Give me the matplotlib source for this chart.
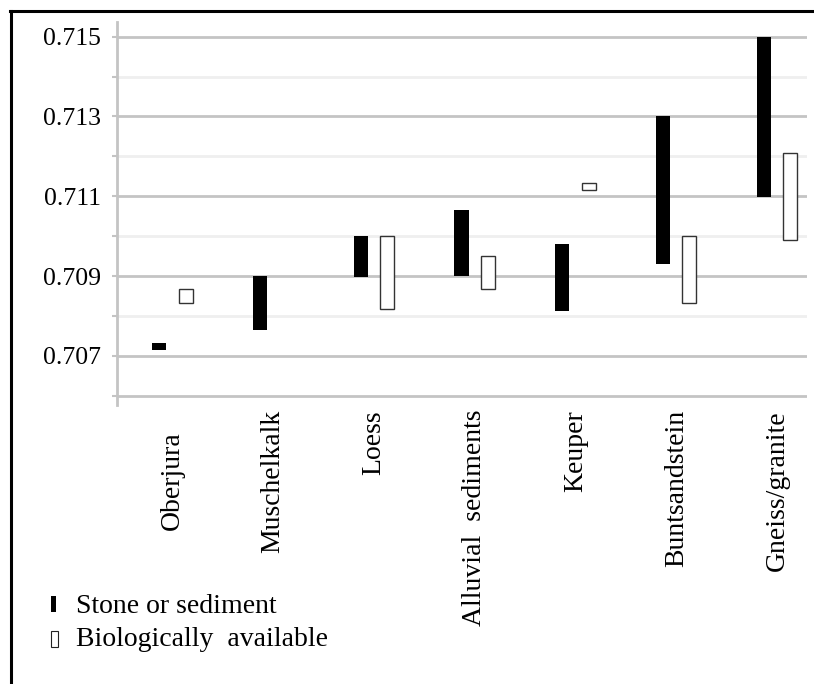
import numpy as np
import matplotlib
matplotlib.use("Agg")
import matplotlib.pyplot as plt
from matplotlib.patches import Rectangle
from matplotlib.lines import Line2D

plt.rcParams['font.family'] = ['Liberation Serif', 'DejaVu Serif']

# 87Sr/86Sr ranges per geological unit
categories = ["Oberjura", "Muschelkalk", "Loess", "Alluvial  sediments",
              "Keuper", "Buntsandstein", "Gneiss/granite"]
stone_low = [0.70715, 0.70765, 0.70898, 0.70900, 0.70813, 0.70931, 0.71098]
stone_high = [0.70733, 0.70900, 0.71000, 0.71066, 0.70981, 0.71300, 0.71500]
bio_low = [0.70833, np.nan, 0.70817, 0.70868, 0.71115, 0.70833, 0.70991]
bio_high = [0.70868, np.nan, 0.71000, 0.70950, 0.71133, 0.71000, 0.71209]

major_ticks = [0.707, 0.709, 0.711, 0.713, 0.715]
minor_ticks = [0.706, 0.708, 0.710, 0.712, 0.714]

W, H = 814, 684
fig = plt.figure(figsize=(W / 100, H / 100), dpi=100)
ax = fig.add_axes([116.7 / W, 1 - 405 / H, 690 / W, 383.3 / H])

x = np.arange(len(categories))
bw = 0.139
off = 0.131
s_lo = np.array(stone_low)
s_hi = np.array(stone_high)
b_lo = np.array(bio_low)
b_hi = np.array(bio_high)

ax.bar(x - off, s_hi - s_lo, bottom=s_lo, width=bw, color='black', zorder=3)
ax.bar(x + off, b_hi - b_lo, bottom=b_lo, width=bw, color='white',
       edgecolor='#333333', linewidth=1.0, zorder=3)

ax.set_xlim(-0.552, 6.294)
ax.set_ylim(0.705767, 0.715376)

# gridlines: strong at odd values, faint at even ones
for v in major_ticks + [0.706]:
    ax.axhline(v, color='#c4c4c4', linewidth=2.0, zorder=1)
for v in minor_ticks[1:]:
    ax.axhline(v, color='#efefef', linewidth=2.0, zorder=1)

ax.set_yticks(major_ticks)
ax.set_yticklabels([f"{v:.3f}" for v in major_ticks])
ax.set_yticks(minor_ticks, minor=True)
ax.tick_params(axis='y', which='both', length=3.6, width=1.5, color='#c4c4c4',
               labelsize=18.5, pad=8)
ax.set_xticks([])

for side in ['top', 'right', 'bottom']:
    ax.spines[side].set_visible(False)
ax.spines['left'].set_color('#c4c4c4')
ax.spines['left'].set_linewidth(2.0)

# rotated category labels below the plot
for i, name in enumerate(categories):
    pad = 19.2 if name == "Oberjura" else 3.6
    ax.annotate(name, xy=(i, 0), xycoords=('data', 'axes fraction'),
                xytext=(0, -pad), textcoords='offset points',
                rotation=90, ha='center', va='top', fontsize=20,
                annotation_clip=False)

# hand-made legend
fig.add_artist(Rectangle((50.7 / W, 1 - 612.3 / H), 4.8 / W, 16.3 / H,
                         transform=fig.transFigure, facecolor='black',
                         edgecolor='none'))
fig.add_artist(Rectangle((50.5 / W, 1 - 647 / H), 7 / W, 16.5 / H,
                         transform=fig.transFigure, facecolor='white',
                         edgecolor='#222222', linewidth=0.8))
fig.text(76 / W, 1 - 612.7 / H, "Stone or sediment", fontsize=20,
         va='baseline', ha='left')
fig.text(76 / W, 1 - 646 / H, "Biologically  available", fontsize=20,
         va='baseline', ha='left')

# outer frame (left and top edges visible)
fig.add_artist(Line2D([10.7 / W, 10.7 / W], [0, 1 - 11 / H],
                      transform=fig.transFigure, color='black', linewidth=2.2))
fig.add_artist(Line2D([9.6 / W, 1], [1 - 11.2 / H, 1 - 11.2 / H],
                      transform=fig.transFigure, color='black', linewidth=2.2))

fig.savefig("out.png", dpi=100)
